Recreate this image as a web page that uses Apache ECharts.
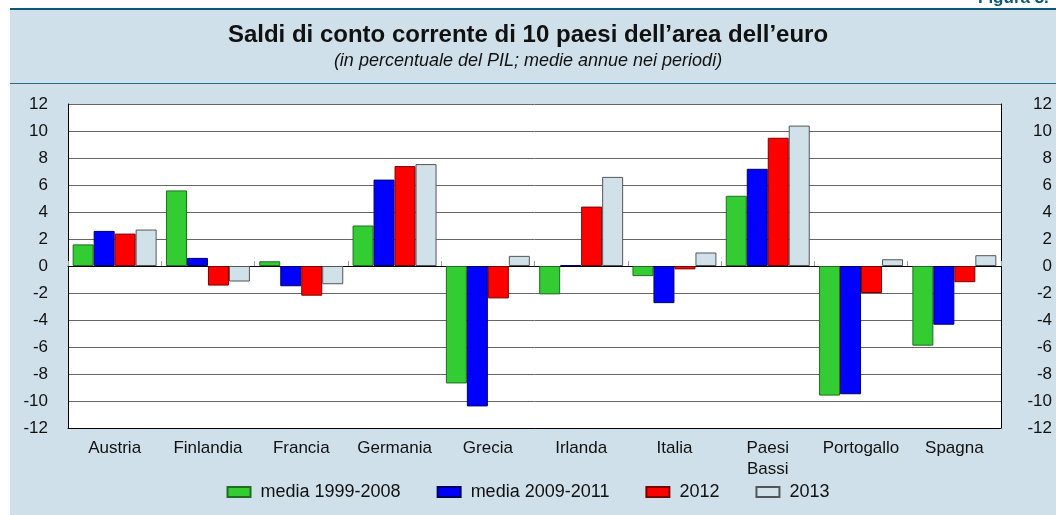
<!DOCTYPE html>
<html>
<head>
<meta charset="utf-8">
<script src="https://cdn.jsdelivr.net/npm/echarts@6/dist/echarts.min.js"></script>
<style>
  html, body { margin: 0; padding: 0; background: #fff; }
  #chart { width: 1056px; height: 515px; }
</style>
</head>
<body>
<div id="chart"></div>
<script>
// dati
const paesi = ['Austria', 'Finlandia', 'Francia', 'Germania', 'Grecia', 'Irlanda', 'Italia', 'Paesi\nBassi', 'Portogallo', 'Spagna']
const media1999_2008 = [1.6, 5.6, 0.35, 3.0, -8.7, -2.1, -0.75, 5.2, -9.6, -5.9]
const media2009_2011 = [2.6, 0.6, -1.5, 6.4, -10.4, 0.05, -2.75, 7.2, -9.5, -4.35]
const anno2012 = [2.4, -1.45, -2.2, 7.4, -2.4, 4.4, -0.25, 9.5, -2.0, -1.2]
const anno2013 = [2.7, -1.15, -1.35, 7.55, 0.75, 6.6, 1.0, 10.4, 0.5, 0.8]
const nomiSerie = ['media 1999-2008', 'media 2009-2011', '2012', '2013']

const FONT = '"Liberation Sans", Arial, sans-serif'
const SFONDO = '#cfe0ea'
const TEAL = '#0d5878'

const chart = echarts.init(document.getElementById('chart'))

function serie(name, data, color, border) {
  return {
    name: name,
    type: 'bar',
    data: data,
    barGap: '0%',
    barCategoryGap: '10%',
    itemStyle: { color: color, borderColor: border, borderWidth: 1 }
  }
}

chart.setOption({
  animation: false,
  backgroundColor: '#fff',
  textStyle: { fontFamily: FONT },
  graphic: [
    { type: 'rect', z: -10, shape: { x: 10, y: 8, width: 1046, height: 507 }, style: { fill: SFONDO } },
    { type: 'rect', z: -9, shape: { x: 10, y: 8, width: 1046, height: 2 }, style: { fill: TEAL } },
    { type: 'rect', z: -9, shape: { x: 10, y: 83, width: 1046, height: 1 }, style: { fill: '#2a6d8a' } },
    {
      type: 'text', left: 978, top: -10,
      style: { text: 'Figura 3.', fill: TEAL, font: 'bold 17px ' + FONT }
    },
    {
      type: 'text', left: 'center', top: 23,
      style: { text: 'Saldi di conto corrente di 10 paesi dell\u2019area dell\u2019euro', fill: '#111', font: 'bold 24px ' + FONT }
    },
    {
      type: 'text', left: 'center', top: 52,
      style: { text: '(in percentuale del PIL; medie annue nei periodi)', fill: '#111', font: 'italic 18px ' + FONT }
    }
  ],
  legend: {
    bottom: 9,
    left: 'center',
    itemWidth: 23,
    itemHeight: 10,
    itemGap: 36,
    icon: 'rect',
    data: nomiSerie,
    textStyle: { fontSize: 18, color: '#111', padding: [0, 0, 0, 5] }
  },
  grid: {
    show: true,
    left: 68,
    right: 55,
    top: 104,
    height: 324,
    backgroundColor: '#fff',
    borderWidth: 0
  },
  xAxis: [{
    type: 'category',
    data: paesi,
    position: 'bottom',
    axisLine: { onZero: false, lineStyle: { color: '#000', width: 1 } },
    axisTick: { show: false },
    axisLabel: { interval: 0, fontSize: 17, color: '#111', margin: 10, lineHeight: 21 }
  }, {
    type: 'category',
    data: paesi,
    axisLine: { onZero: true, lineStyle: { color: '#000', width: 1 } },
    axisTick: { show: true, interval: 0, length: 5, lineStyle: { color: '#999' } },
    axisLabel: { show: false }
  }],
  yAxis: [{
    type: 'value',
    min: -12,
    max: 12,
    interval: 2,
    axisLine: { show: true, lineStyle: { color: '#000' } },
    axisTick: { show: false },
    axisLabel: { fontSize: 17, color: '#111', margin: 20 },
    splitLine: { lineStyle: { color: '#666', width: 1 } }
  }, {
    type: 'value',
    position: 'right',
    min: -12,
    max: 12,
    interval: 2,
    axisLine: { show: true, lineStyle: { color: '#000' } },
    axisTick: { show: false },
    axisLabel: { fontSize: 17, color: '#111', margin: 51, align: 'right' },
    splitLine: { show: false }
  }],
  series: [
    serie(nomiSerie[0], media1999_2008, '#33cc33', '#1e6e1e'),
    serie(nomiSerie[1], media2009_2011, '#0000ff', '#00005e'),
    serie(nomiSerie[2], anno2012, '#ff0000', '#7a0000'),
    serie(nomiSerie[3], anno2013, '#d0e1ea', '#555')
  ]
})
</script>
</body>
</html>
